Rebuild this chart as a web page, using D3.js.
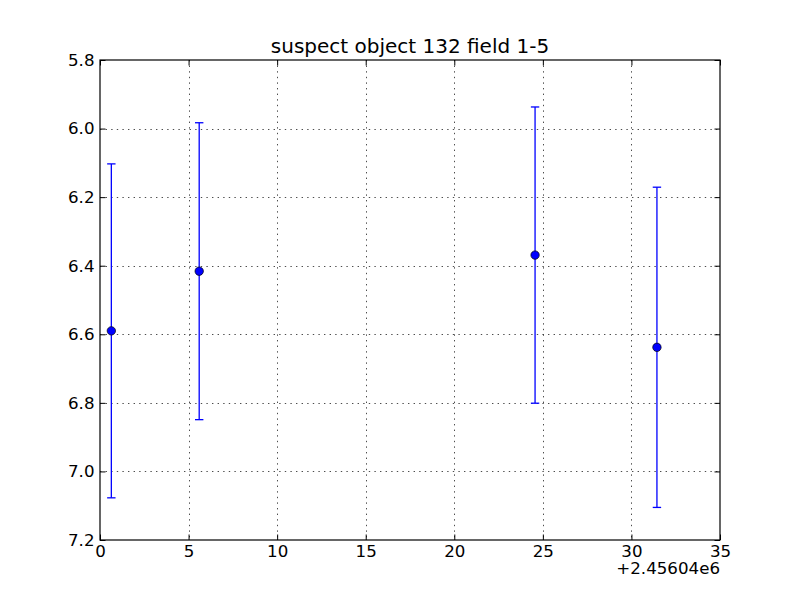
<!DOCTYPE html>
<html><head><meta charset="utf-8">
<script src="https://cdn.jsdelivr.net/npm/d3@7"></script>
<style>body{margin:0;background:#fff}svg{display:block}text{font-family:"DejaVu Sans",sans-serif;fill:#000}</style>
</head><body>
<svg id="c" width="800" height="600"></svg>
<script>
const title = "suspect object 132 field 1-5";
const xOffsetLabel = "+2.45604e6";
const xValues = [0.64, 5.6, 24.56, 31.44];
const yValues = [6.590, 6.416, 6.369, 6.638];
const yErrors = [0.487, 0.433, 0.432, 0.467];
const xTicks = [0, 5, 10, 15, 20, 25, 30, 35];
const yTicks = [5.8, 6.0, 6.2, 6.4, 6.6, 6.8, 7.0, 7.2];

const W = 800, H = 600;
const m = {left: 100, right: 80, top: 60, bottom: 60};
const svg = d3.select("#c");
const x = d3.scaleLinear().domain([0, 35]).range([m.left, W - m.right]);
const y = d3.scaleLinear().domain([5.8, 7.2]).range([m.top, H - m.bottom]);
const fs = 16.67;

// grid
const g = svg.append("g");
g.selectAll(".gx").data(xTicks.slice(1, -1)).join("line")
  .attr("x1", d => Math.round(x(d)) + 0.5).attr("x2", d => Math.round(x(d)) + 0.5)
  .attr("y1", y(5.8)).attr("y2", y(7.2))
  .attr("stroke", "#000").attr("stroke-width", 0.7).attr("stroke-dasharray", "1.4,4.2");
g.selectAll(".gy").data(yTicks.slice(1, -1)).join("line")
  .attr("y1", d => Math.round(y(d)) + 0.5).attr("y2", d => Math.round(y(d)) + 0.5)
  .attr("x1", x(0)).attr("x2", x(35))
  .attr("stroke", "#000").attr("stroke-width", 0.7).attr("stroke-dasharray", "1.4,4.2");

// axes with inside ticks on all sides
const tl = 5.5;
const axB = d3.axisBottom(x).tickValues(xTicks).tickSize(-tl).tickPadding(5.5).tickFormat(d3.format("d"));
const axT = d3.axisTop(x).tickValues(xTicks).tickSize(-tl).tickFormat("");
const axL = d3.axisLeft(y).tickValues(yTicks).tickSize(-tl).tickPadding(5.5).tickFormat(d3.format(".1f"));
const axR = d3.axisRight(y).tickValues(yTicks).tickSize(-tl).tickFormat("");
function style(sel) {
  sel.select(".domain").remove();
  sel.selectAll("line").attr("stroke", "#000").attr("stroke-width", 1);
  sel.selectAll("text").attr("font-size", fs).attr("font-family", "DejaVu Sans, sans-serif").attr("fill", "#000");
}
svg.append("g").attr("transform", `translate(0,${y(7.2)})`).call(axB).call(style);
svg.append("g").attr("transform", `translate(0,${y(5.8)})`).call(axT).call(style);
svg.append("g").attr("transform", `translate(${x(0)},0)`).call(axL).call(style);
svg.append("g").attr("transform", `translate(${x(35)},0)`).call(axR).call(style);

// frame
svg.append("rect").attr("x", x(0)).attr("y", y(5.8)).attr("width", x(35) - x(0)).attr("height", y(7.2) - y(5.8))
  .attr("fill", "none").attr("stroke", "#000").attr("stroke-width", 1.2);

// error bars
const data = xValues.map((v, i) => ({x: v, y: yValues[i], e: yErrors[i]}));
const eb = svg.append("g");
eb.selectAll(".v").data(data).join("line")
  .attr("x1", d => x(d.x)).attr("x2", d => x(d.x))
  .attr("y1", d => y(d.y - d.e)).attr("y2", d => y(d.y + d.e))
  .attr("stroke", "#0000ff").attr("stroke-width", 1.3);
["top", "bot"].forEach(k => {
  eb.selectAll(".c" + k).data(data).join("line")
    .attr("x1", d => x(d.x) - 4.2).attr("x2", d => x(d.x) + 4.2)
    .attr("y1", d => y(k === "top" ? d.y - d.e : d.y + d.e))
    .attr("y2", d => y(k === "top" ? d.y - d.e : d.y + d.e))
    .attr("stroke", "#0000ff").attr("stroke-width", 1.3);
});
svg.append("g").selectAll("circle").data(data).join("circle")
  .attr("cx", d => x(d.x)).attr("cy", d => y(d.y)).attr("r", 4.2)
  .attr("fill", "#0000ff").attr("stroke", "#000").attr("stroke-width", 0.7);

// title and offset text
svg.append("text").attr("x", (x(0) + x(35)) / 2).attr("y", 53).attr("text-anchor", "middle")
  .attr("font-size", 20).text(title);
svg.append("text").attr("x", x(35)).attr("y", 574).attr("text-anchor", "end")
  .attr("font-size", fs).text(xOffsetLabel);
</script>
</body></html>
